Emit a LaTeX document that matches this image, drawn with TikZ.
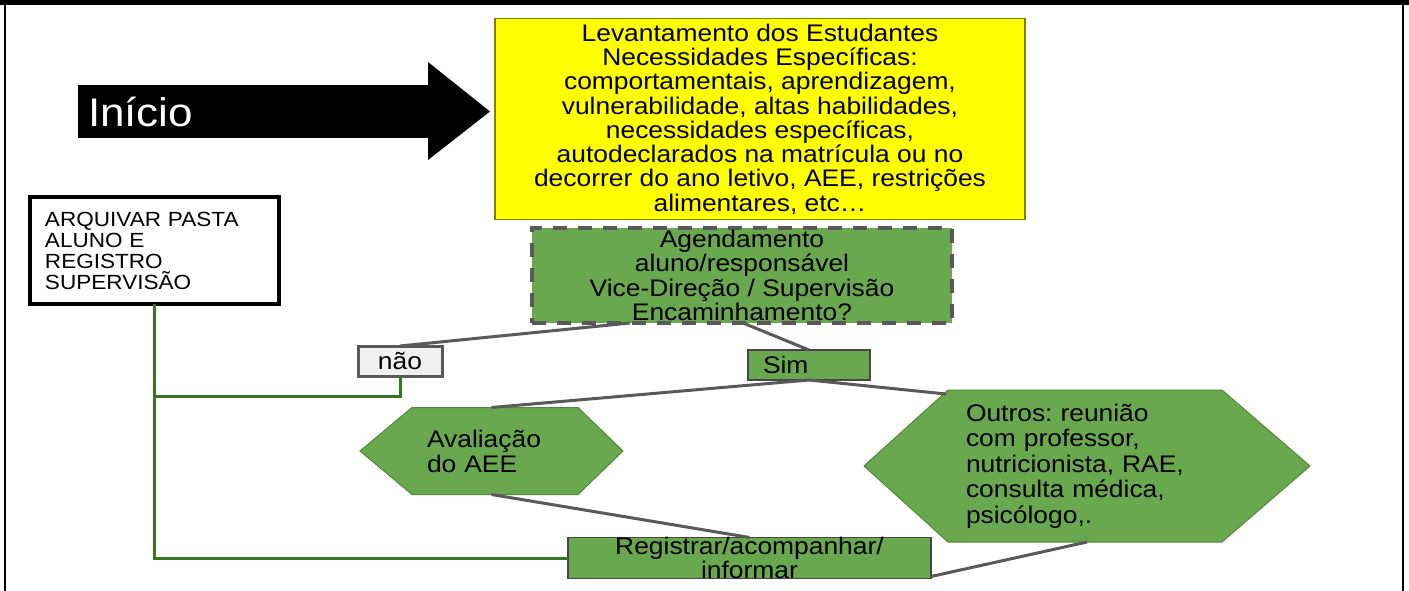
\documentclass[tikz,border=0pt]{standalone}
\usepackage{fontspec}
\setmainfont{Liberation Sans}[FakeStretch=1.1]
\frenchspacing
\usetikzlibrary{calc,backgrounds}
\definecolor{gfill}{HTML}{6AA84F}
\definecolor{gline}{HTML}{38761D}
\definecolor{cline}{HTML}{595959}
\definecolor{ybord}{HTML}{7F7F00}
\definecolor{hexb}{HTML}{4E8A35}
\definecolor{yfill}{HTML}{FFFF00}
\tikzset{
  txt/.style={font=\fontsize{24}{24.3}\selectfont, text=black},
  pbox/.style={rectangle, inner sep=0pt, outer sep=0pt},
  conn/.style={draw=cline, line width=3pt},
  gconn/.style={draw=gline, line width=3pt},
  hexa/.style={fill=gfill, draw=hexb, line width=1pt},
  thinb/.style={draw=cline!80!black, line width=1.2pt}
}
\begin{document}
\begin{tikzpicture}[x=1pt,y=-1pt]
\useasboundingbox (0,0) rectangle (1409,591);
% frame
\draw[line width=5pt] (0,2.5) -- (1409,2.5);
\draw[line width=2.5pt] (5,0) -- (5,591);
\draw[line width=2.5pt] (1403,0) -- (1403,591);

% Inicio arrow
\node[pbox, fill=black, text=white, minimum width=350, minimum height=53,
      text width=330, inner xsep=10, align=left,
      font=\fontsize{40}{42}\selectfont] (ini) at (253,111.5) {Início};
\fill[black] (ini.north east) -- ($(ini.north east)+(0,-23)$) -- ($(ini.east)+(62,0)$)
   -- ($(ini.south east)+(0,22)$) -- (ini.south east) -- cycle;

% yellow box
\node[pbox, txt, fill=yfill, draw=ybord, line width=1.5pt, minimum width=530,
      minimum height=201, align=center] (lev) at (760,119)
 {Levantamento dos Estudantes\\Necessidades Específicas:\\comportamentais, aprendizagem,\\vulnerabilidade, altas habilidades,\\necessidades específicas,\\autodeclarados na matrícula ou no\\decorrer do ano letivo, AEE, restrições\\alimentares, etc\dots};

% agendamento
\node[pbox, txt, fill=gfill, draw=cline, line width=4pt, dash pattern=on 14pt off 11pt,
      minimum width=420, minimum height=95, align=center] (agend) at (742,275.5)
 {Agendamento\\aluno/responsável\\Vice-Direção / Supervisão\\Encaminhamento?};

% arquivar
\node[pbox, draw=black, line width=3.5pt, fill=white, minimum width=249, minimum height=107,
      text width=219, inner xsep=15, align=left,
      font=\fontsize{20.5}{21}\selectfont] (arq) at (154.5,250.5)
 {ARQUIVAR PASTA\\ALUNO E\\REGISTRO\\SUPERVISÃO};

% nao / sim
\node[pbox, txt, fill=gray!12, draw=cline, line width=3pt, minimum width=84,
      minimum height=30] (nao) at (400,361) {não};
\node[pbox, txt, fill=gfill, thinb, minimum width=122, minimum height=30,
      text width=92, inner xsep=15, align=left] (sim) at (809,365) {Sim};

% hexagon text nodes
\node[pbox, txt, minimum width=263, minimum height=87, text width=129, inner xsep=67,
      align=left, font=\fontsize{24}{25}\selectfont] (aval) at (491.5,451) {Avaliação\\do AEE};
\node[pbox, txt, minimum width=446, minimum height=152, text width=242, inner xsep=102,
      align=left, font=\fontsize{24}{25.5}\selectfont] (outros) at (1087,466)
 {Outros: reunião\\com professor,\\nutricionista, RAE,\\consulta médica,\\psicólogo,.};

% registrar
\node[pbox, txt, fill=gfill, thinb, minimum width=363, minimum height=40, align=center,
      font=\fontsize{24}{19.5}\selectfont] (reg) at (749.5,558) {Registrar/acompanhar/\\informar};

\begin{scope}[on background layer]
\fill[white] (0,0) rectangle (1409,591);
\path[hexa] (aval.west) -- ($(aval.north west)+(52,0)$) -- ($(aval.north east)+(-45,0)$)
  -- (aval.east) -- ($(aval.south east)+(-45,0)$) -- ($(aval.south west)+(52,0)$) -- cycle;
\path[hexa] (outros.west) -- ($(outros.north west)+(84,0)$) -- ($(outros.north east)+(-88,0)$)
  -- (outros.east) -- ($(outros.south east)+(-88,0)$) -- ($(outros.south west)+(84,0)$) -- cycle;
\end{scope}

% connectors
\draw[conn] ($(agend.south west)+(98,0)$) -- (nao.north);
\draw[conn] ($(agend.south west)+(211,0)$) -- (sim.north);
\draw[conn] (sim.south) -- (aval.north);
\draw[conn] (sim.south) -- ($(outros.north west)+(82,4)$);
\draw[conn] (aval.south) -- (reg.north);
\draw[conn] (outros.south) -- ($(reg.south east)+(0,-2)$);

% green connectors
\draw[gconn] (arq.south) |- (reg.west);
\draw[gconn] (nao.south) -- ++(0,20) -| (arq.south);
\end{tikzpicture}
\end{document}
